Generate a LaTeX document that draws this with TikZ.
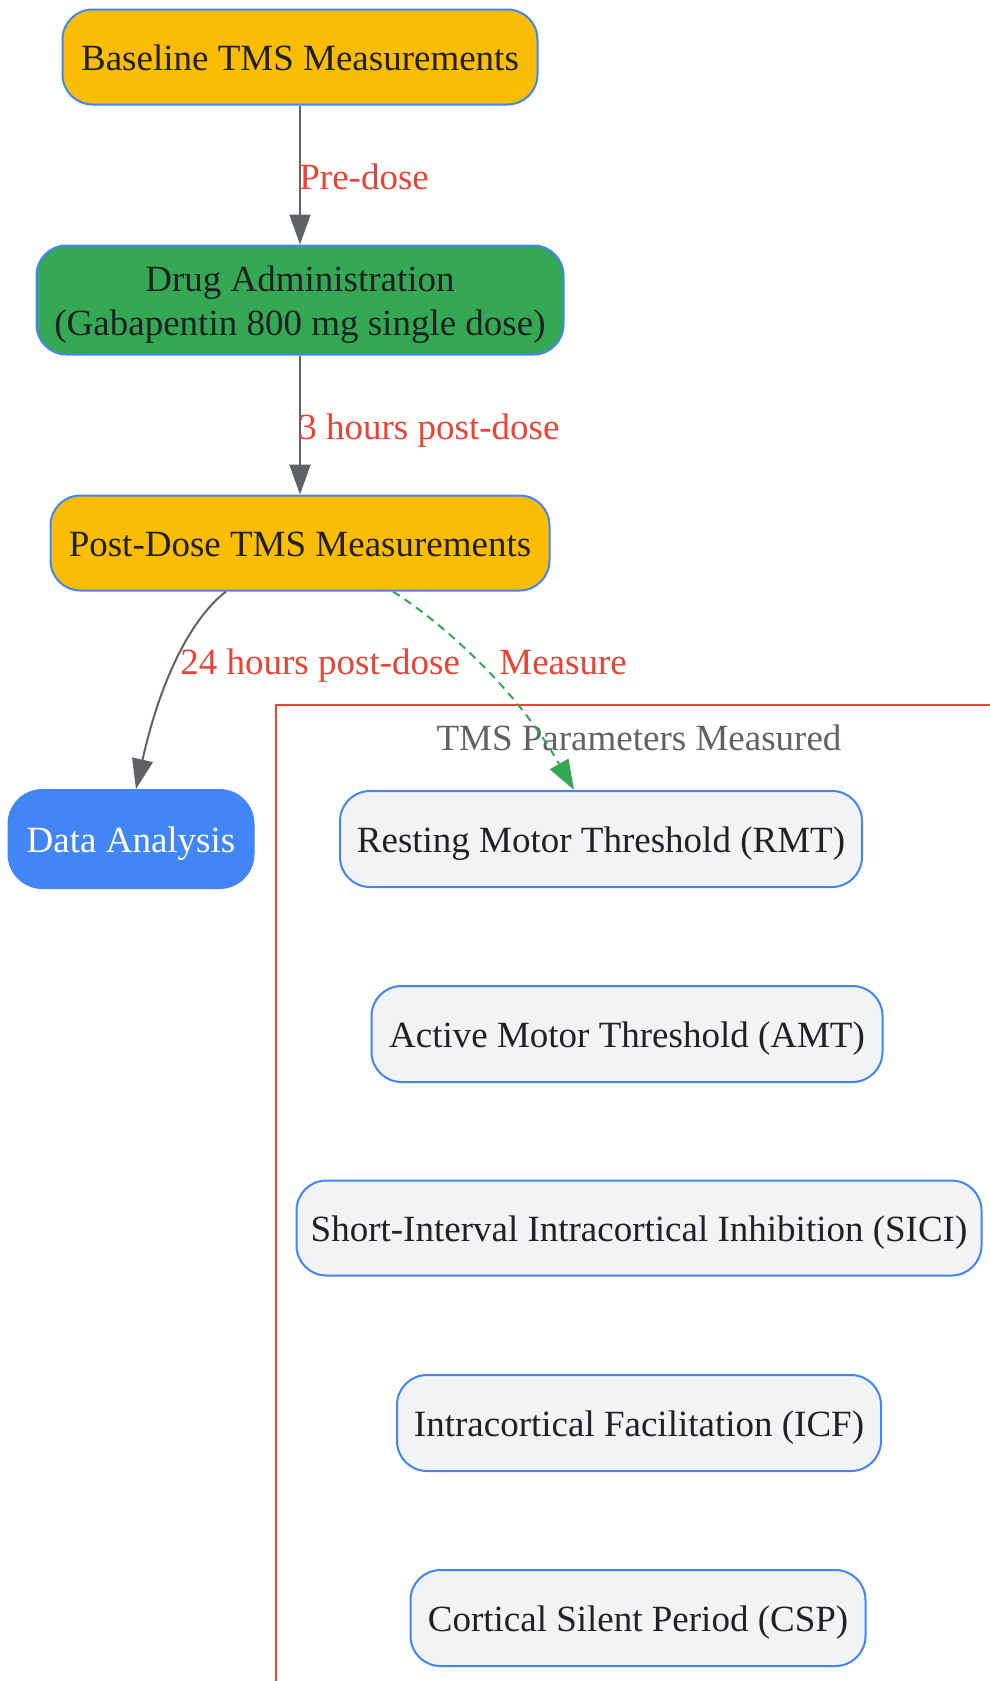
\documentclass[tikz,border=0pt]{standalone}
\usepackage{fontspec}
\setmainfont{Liberation Serif}
\usetikzlibrary{arrows.meta}
\definecolor{cyellow}{HTML}{FBBC04}
\definecolor{cgreen}{HTML}{34A853}
\definecolor{cblue}{HTML}{4285F4}
\definecolor{cgrayfill}{HTML}{F1F3F4}
\definecolor{ctext}{HTML}{202124}
\definecolor{cedge}{HTML}{5F6368}
\definecolor{cred}{HTML}{EA4335}
\tikzset{
  box/.style={draw=cblue, line width=1pt, rounded corners=15pt, inner sep=0pt,
    text=ctext, align=center, minimum height=48pt},
  oneline/.style={text height=13.7pt, text depth=0pt},
  yellowbox/.style={box, fill=cyellow},
  greenbox/.style={box, fill=cgreen},
  bluebox/.style={box, fill=cblue, text=white},
  parambox/.style={box, oneline, fill=cgrayfill},
  flow/.style={draw=cedge, line width=1pt, -{Triangle[length=15pt,width=10.5pt]}},
  measureflow/.style={draw=cgreen, line width=1pt, dash pattern=on 4pt off 3pt,
    -{Triangle[length=15pt,width=10.5pt,fill=cgreen]}},
  elabel/.style={text=cred, inner sep=0pt, anchor=base west},
  frame/.style={draw=cred, line width=1pt},
}
\begin{document}
\begin{tikzpicture}[x=0.5pt,y=-0.5pt,font=\fontsize{18.5}{22.15}\selectfont]
\useasboundingbox (0,0) rectangle (990,1681);
\clip (0,0) rectangle (990,1681);

% cluster frame
\coordinate (fbl) at (276,1700);
\coordinate (ftl) at (276,705);
\coordinate (ftr) at (1010,705);
\draw[frame] (fbl) -- (ftl) -- (ftr);
\node[text=cedge, inner sep=0pt, anchor=base] (clabel) at (639,750) {TMS Parameters Measured};

% nodes
\node[yellowbox, oneline, minimum width=237.5pt, minimum height=47.5pt] (base) at (300,57) {Baseline TMS Measurements};
\node[greenbox, minimum width=263.5pt, minimum height=54.5pt] (drug) at (300,300) {\rule{0pt}{17.4pt}Drug Administration\\(Gabapentin 800 mg single dose)};
\node[yellowbox, oneline, minimum width=249.5pt, minimum height=47.5pt] (post) at (300,543) {Post-Dose TMS Measurements};
\node[bluebox, oneline, minimum width=122.5pt, minimum height=49pt, rounded corners=17pt] (data) at (131,839) {Data Analysis};

\node[parambox, minimum width=261pt] (rmt) at (601,839) {Resting Motor Threshold (RMT)};
\node[parambox, minimum width=255.5pt] (amt) at (627,1034) {Active Motor Threshold (AMT)};
\node[parambox, minimum width=342.5pt, minimum height=47.5pt] (sici) at (639,1228) {Short-Interval Intracortical Inhibition (SICI)};
\node[parambox, minimum width=242pt] (icf) at (639,1423) {Intracortical Facilitation (ICF)};
\node[parambox, minimum width=227.5pt] (csp) at (638,1618) {Cortical Silent Period (CSP)};

% edges
\draw[flow] (base.south) -- (drug.north);
\draw[flow] (drug.south) -- (post.north);
\draw[flow] ([shift={(-74,0)}]post.south) .. controls ([shift={(-110,28)}]post.south) and ([shift={(-140,90)}]post.south) .. ([shift={(5,0)}]data.north);
\draw[measureflow] ([shift={(93,0)}]post.south) .. controls ([shift={(140,30)}]post.south) and ([shift={(215,95)}]post.south) .. ([shift={(-27,0)}]rmt.north);

% edge labels
\node[elabel] (l1) at (299,189) {Pre-dose};
\node[elabel] (l2) at (298,439) {3 hours post-dose};
\node[elabel] (l3) at (180,674) {24 hours post-dose};
\node[elabel] (l4) at (499,674) {Measure};
\end{tikzpicture}
\end{document}
